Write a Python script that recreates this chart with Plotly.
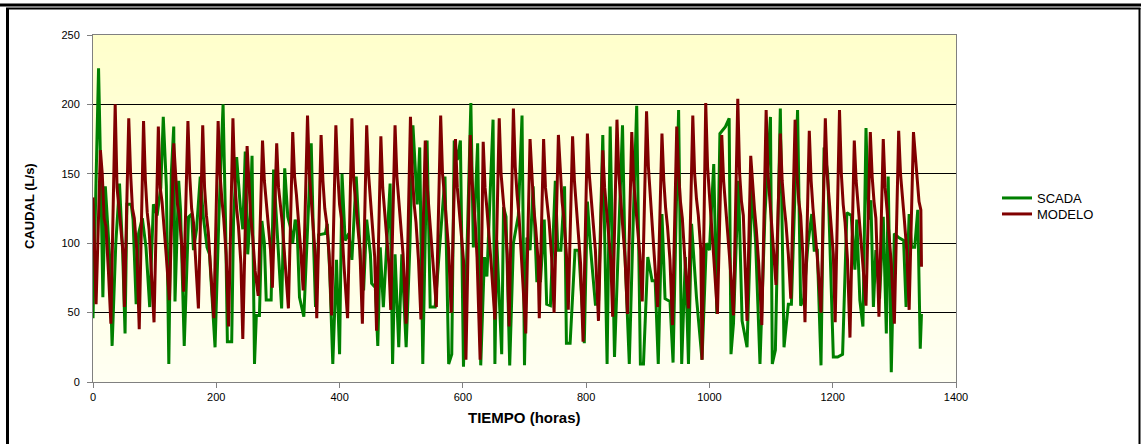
import plotly.graph_objects as go

# ---------------- data ----------------
scada_horas = [0, 9, 13, 16, 20, 23, 27, 31, 37, 43, 45, 48, 52, 55, 62, 65, 70, 74, 80, 86, 92, 98, 104, 110, 114, 119, 123, 127, 131, 133, 139, 142, 148, 155, 160, 163, 168, 174, 179, 185, 189, 198, 204, 211, 215, 218, 225, 228, 233, 239, 243, 247, 251, 255, 258, 260, 262, 265, 270, 274, 278, 281, 289, 293, 297, 301, 306, 311, 316,
               320, 324, 328, 331, 335, 342, 348, 354, 358, 361, 366, 377, 380, 384, 389, 395, 400, 404, 409, 415, 420, 427, 434, 439, 444, 450, 452, 458, 462, 466, 471, 476, 482, 486, 490, 496, 501, 508, 514, 519, 526, 530, 535, 542, 547, 555, 563, 571, 577, 582, 586, 591, 596, 601, 607, 613, 617, 624, 629,
               635, 639, 643, 649, 652, 655, 663, 666, 670, 676, 682, 690, 696, 700, 704, 709, 714, 720, 726, 732, 736, 742, 750, 754, 759, 765, 768, 774, 782, 788, 797, 802, 807, 815, 820, 827, 834, 839, 846, 852, 859, 863, 870, 876, 882, 888, 893, 900, 907, 912, 917, 923,
               928, 936, 941, 946, 950, 955, 961, 966, 971, 979, 988, 995, 1000, 1007, 1012, 1017, 1026, 1032, 1035, 1039, 1047, 1053, 1061, 1069, 1075, 1082, 1090, 1099, 1102, 1107, 1111, 1115, 1121, 1128, 1133, 1143, 1148, 1153, 1160, 1166, 1170, 1175, 1181, 1186, 1192, 1201, 1208, 1216, 1223, 1230, 1236,
               1239, 1244, 1249, 1254, 1258, 1262, 1266, 1270, 1276, 1282, 1287, 1290, 1295, 1300, 1307, 1315, 1319, 1324, 1328, 1333, 1338, 1342, 1344]
scada_caudal = [46, 226, 141, 61, 141, 117, 90, 26, 100, 143, 126, 95, 35, 128, 128, 117, 56, 107, 118, 97, 54, 128, 120, 140, 191, 141, 13, 150, 184, 58, 145, 124, 26, 119, 121, 95, 110, 148, 119, 97, 92, 25, 116, 200, 116, 29, 29, 117, 162, 126, 110, 166, 92, 120, 163, 73, 13, 48, 48, 116, 100, 59, 59, 153, 120, 92, 53, 154, 119,
                112, 100, 117, 112, 61, 47, 110, 172, 97, 54, 106, 107, 114, 80, 13, 88, 20, 150, 102, 107, 88, 148, 88, 66, 117, 92, 71, 68, 26, 97, 54, 97, 143, 13, 92, 25, 92, 25, 97, 185, 128, 169, 13, 174, 54, 54, 100, 148, 13, 20, 174, 160, 174, 11, 100, 201, 97, 172, 12,
                90, 76, 126, 189, 13, 102, 20, 126, 119, 12, 100, 120, 192, 12, 104, 95, 141, 73, 73, 117, 56, 55, 145, 95, 95, 141, 28, 28, 95, 95, 28, 130, 97, 56, 56, 178, 13, 184, 18, 100, 185, 92, 13, 110, 199, 13, 13, 90, 73, 73, 13, 121,
                60, 58, 14, 120, 196, 13, 90, 13, 114, 61, 16, 100, 95, 157, 49, 179, 184, 190, 20, 42, 145, 44, 25, 141, 100, 13, 120, 191, 13, 23, 120, 197, 25, 56, 56, 196, 55, 60, 100, 121, 95, 95, 12, 169, 150, 18, 18, 20, 122, 120, 81,
                117, 59, 40, 183, 117, 131, 54, 95, 60, 119, 35, 148, 7, 107, 104, 102, 54, 121, 97, 97, 124, 24, 49]

modelo_horas = [0,
    5, 12, 15, 18, 21, 25,
    29, 36, 39, 42, 45, 49,
    51, 58, 61, 64, 67, 71,
    75, 82, 85, 88, 91, 95,
    99, 106, 109, 112, 115, 119,
    124, 131, 134, 137, 140, 144,
    147, 154, 157, 160, 163, 167,
    171, 178, 181, 184, 187, 191,
    196, 203, 206, 209, 212, 216,
    220, 227, 230, 233, 236, 240,
    243, 250, 253, 256, 259, 263,
    268, 275, 278, 281, 284, 288,
    291, 298, 301, 304, 307, 311,
    317, 324, 327, 330, 333, 337,
    341, 348, 351, 354, 357, 361,
    363, 370, 373, 376, 379, 383,
    387, 394, 397, 400, 403, 407,
    413, 420, 423, 426, 429, 433,
    437, 444, 447, 450, 453, 457,
    460, 467, 470, 473, 476, 480,
    483, 490, 493, 496, 499, 503,
    508, 515, 518, 521, 524, 528,
    532, 539, 542, 545, 548, 552,
    557, 564, 567, 570, 573, 577,
    581, 588, 591, 594, 597, 601,
    605, 612, 615, 618, 620, 623,
    628, 633, 636, 639, 642, 646,
    652, 659, 662, 665, 668, 672,
    675, 682, 685, 688, 691, 695,
    702, 709, 712, 715, 718, 722,
    724, 731, 734, 737, 740, 744,
    748, 755, 758, 761, 764, 768,
    771, 778, 781, 784, 787, 791,
    795, 802, 805, 808, 811, 815,
    820, 827, 830, 833, 836, 840,
    843, 850, 853, 856, 859, 863,
    867, 874, 877, 880, 883, 887,
    891, 898, 901, 904, 907, 911,
    916, 923, 926, 929, 932, 936,
    940, 947, 950, 953, 956, 960,
    966, 973, 976, 979, 982, 986,
    988, 994, 997, 1000, 1003, 1007,
    1013, 1020, 1023, 1026, 1029, 1033,
    1039, 1046, 1049, 1052, 1055, 1057,
    1061, 1067, 1070, 1073, 1076, 1080,
    1085, 1092, 1095, 1098, 1101, 1105,
    1108, 1115, 1118, 1121, 1124, 1128,
    1132, 1139, 1142, 1145, 1148, 1152,
    1155, 1162, 1165, 1168, 1171, 1175,
    1181, 1188, 1191, 1194, 1197, 1201,
    1204, 1211, 1214, 1217, 1220, 1224,
    1228, 1235, 1238, 1241, 1244, 1248,
    1254, 1261, 1264, 1267, 1270, 1272,
    1275, 1282, 1285, 1288, 1291, 1295,
    1300, 1307, 1310, 1313, 1316, 1320,
    1324, 1331, 1335, 1340, 1343, 1344]
modelo_caudal = [133,
    56, 167, 150, 118, 112, 80,
    42, 200, 140, 126, 112, 92,
    54, 190, 150, 125, 118, 95,
    38, 188, 145, 122, 110, 78,
    43, 184, 140, 130, 115, 90,
    59, 172, 150, 128, 120, 98,
    65, 188, 148, 125, 115, 85,
    53, 185, 140, 120, 108, 80,
    46, 188, 150, 132, 118, 92,
    40, 190, 145, 125, 112, 85,
    31, 170, 140, 118, 105, 80,
    62, 174, 145, 130, 118, 95,
    68, 172, 140, 128, 115, 90,
    53, 180, 148, 135, 120, 95,
    66, 192, 150, 130, 112, 88,
    46, 178, 145, 125, 115, 92,
    48, 185, 150, 128, 118, 85,
    46, 190, 145, 130, 120, 95,
    42, 185, 150, 132, 115, 90,
    37, 177, 140, 125, 110, 85,
    52, 185, 148, 130, 118, 92,
    42, 191, 150, 128, 115, 88,
    45, 174, 142, 125, 110, 85,
    54, 192, 150, 135, 120, 95,
    50, 175, 140, 125, 112, 88,
    16, 178, 145, 130, 115, 90,
    16, 173, 140, 125, 110, 85,
    45, 190, 150, 130, 118, 92,
    40, 197, 155, 135, 120, 90,
    35, 175, 145, 125, 112, 88,
    46, 175, 140, 128, 115, 90,
    50, 178, 148, 130, 118, 92,
    52, 177, 145, 125, 110, 85,
    29, 179, 150, 132, 120, 95,
    44, 167, 140, 125, 112, 88,
    47, 189, 150, 130, 118, 90,
    49, 180, 145, 128, 115, 92,
    58, 195, 155, 135, 120, 95,
    54, 179, 145, 125, 112, 88,
    41, 184, 150, 130, 118, 90,
    53, 192, 150, 132, 120, 95,
    16, 201, 155, 135, 118, 90,
    49, 178, 145, 128, 115, 88,
    48, 204, 150, 130, 120, 92,
    44, 163, 140, 125, 110, 85,
    41, 196, 150, 132, 118, 90,
    70, 179, 145, 128, 115, 92,
    60, 189, 150, 130, 120, 88,
    43, 181, 145, 125, 112, 90,
    50, 190, 150, 132, 118, 92,
    43, 196, 150, 128, 115, 88,
    32, 174, 145, 125, 112, 90,
    55, 180, 148, 130, 118, 92,
    47, 175, 140, 125, 110, 85,
    42, 181, 150, 130, 118, 95,
    52, 180, 155, 130, 124, 83]

x_ticks = [0, 200, 400, 600, 800, 1000, 1200, 1400]
y_ticks = [0, 50, 100, 150, 200, 250]

# ---------------- layout geometry (pixels) ----------------
W, H = 1141, 444
L, R, T, B = 93, 185, 35, 62
PW, PH = W - L - R, H - T - B


def px(x):
    return (x - L) / PW


def py(y):
    return (H - B - y) / PH


FONT = "Liberation Sans, Arial, sans-serif"

fig = go.Figure()
fig.add_trace(go.Scatter(x=scada_horas, y=scada_caudal, name="SCADA", mode="lines",
                         line=dict(color="#008000", width=3), legend="legend"))
fig.add_trace(go.Scatter(x=modelo_horas, y=modelo_caudal, name="MODELO", mode="lines",
                         line=dict(color="#800000", width=3), legend="legend2"))

shapes = []
# vertical gradient background of the plot area (pale yellow at top, paler at bottom)
n_bands = 40
top_rgb = (255, 255, 204)
bot_rgb = (255, 255, 242)
for i in range(n_bands):
    f = i / (n_bands - 1)
    c = tuple(round(bot_rgb[k] + (top_rgb[k] - bot_rgb[k]) * f) for k in range(3))
    shapes.append(dict(type="rect", xref="x domain", yref="y domain",
                       x0=0, x1=1, y0=i / n_bands, y1=(i + 1) / n_bands + 0.002,
                       fillcolor="rgb(%d,%d,%d)" % c, line=dict(width=0), layer="below"))
# outer chart frame (Excel-like)
shapes.append(dict(type="line", xref="paper", yref="paper", x0=px(0), x1=px(W), y0=py(5), y1=py(5),
                   line=dict(color="black", width=3)))
shapes.append(dict(type="line", xref="paper", yref="paper", x0=px(6), x1=px(1140.5), y0=py(8.5), y1=py(8.5),
                   line=dict(color="black", width=2)))
shapes.append(dict(type="line", xref="paper", yref="paper", x0=px(7.5), x1=px(7.5), y0=py(8), y1=py(H + 2),
                   line=dict(color="black", width=3)))
shapes.append(dict(type="line", xref="paper", yref="paper", x0=px(1139.5), x1=px(1139.5), y0=py(8), y1=py(H + 2),
                   line=dict(color="black", width=2)))

annotations = [
    dict(text="<b>TIEMPO (horas)</b>", xref="paper", yref="paper", x=px(524), y=py(417),
         xanchor="center", yanchor="middle", showarrow=False,
         font=dict(family=FONT, size=15, color="black")),
    dict(text="<b>CAUDAL (L/s)</b>", xref="paper", yref="paper", x=px(29), y=py(206),
         xanchor="center", yanchor="middle", showarrow=False, textangle=-90,
         font=dict(family=FONT, size=13, color="black")),
]

leg_common = dict(xanchor="left", yanchor="middle", font=dict(family=FONT, size=13, color="black"),
                  bgcolor="rgba(0,0,0,0)", borderwidth=0, itemwidth=30)

fig.update_layout(
    width=W, height=H,
    margin=dict(l=L, r=R, t=T, b=B, autoexpand=False),
    paper_bgcolor="white",
    plot_bgcolor="#FFFFE8",
    font=dict(family=FONT, size=11, color="black"),
    shapes=shapes,
    annotations=annotations,
    showlegend=True,
    legend=dict(x=px(997), y=py(198), **leg_common),
    legend2=dict(x=px(997), y=py(214), **leg_common),
    xaxis=dict(range=[0, 1400], tickvals=x_ticks, ticktext=[str(v) for v in x_ticks],
               showgrid=False, zeroline=False,
               showline=True, linecolor="#808080", linewidth=1, mirror=True,
               ticks="outside", ticklen=5, tickcolor="#808080", tickwidth=1,
               tickfont=dict(family=FONT, size=11, color="black")),
    yaxis=dict(range=[0, 250], tickvals=y_ticks, ticktext=[str(v) for v in y_ticks],
               showgrid=True, gridcolor="black", gridwidth=1, zeroline=False,
               showline=True, linecolor="#808080", linewidth=1, mirror=True,
               ticks="outside", ticklen=5, tickcolor="#808080", tickwidth=1,
               ticklabelstandoff=5,
               tickfont=dict(family=FONT, size=11, color="black")),
)

fig.write_html("out.html", config={"displayModeBar": False},
               post_script="document.body.style.margin='0px';document.body.style.overflow='hidden';")
